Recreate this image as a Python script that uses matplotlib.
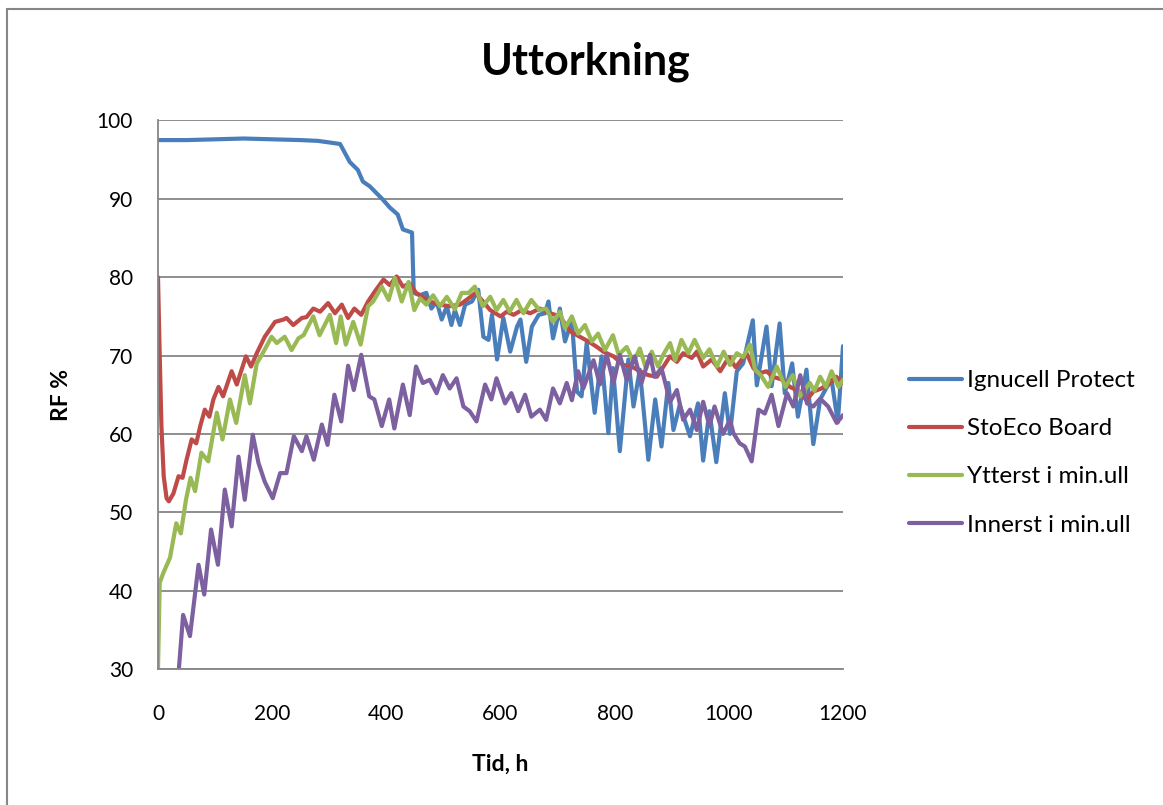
import matplotlib
matplotlib.use("Agg")
import matplotlib.pyplot as plt
from matplotlib.patches import Rectangle

plt.rcParams['font.family'] = ['Lato', 'DejaVu Sans']

# Ignucell Protect
t_ign = [0, 50, 100, 150, 200, 250, 280, 300, 319, 336, 350, 359, 371, 394, 406, 420, 429, 445,
         448, 459, 470, 479, 488, 497, 506, 514, 520, 529, 538, 550, 561, 570, 579, 585, 594, 605,
         617, 629, 635, 645, 655, 667, 678, 684, 692, 704, 713, 725, 734, 742, 751, 765, 777, 789,
         797, 809, 824, 833, 844, 859, 871, 882, 894, 903, 914, 932, 946, 955, 966, 978, 993, 1002,
         1014, 1025, 1042, 1049, 1066, 1075, 1089, 1098, 1111, 1121, 1136, 1148, 1160, 1171, 1180,
         1191, 1200]
rf_ign = [97.5, 97.5, 97.6, 97.7, 97.6, 97.5, 97.4, 97.2, 97.0, 94.7, 93.7, 92.2, 91.6, 89.9, 88.9, 88.0, 86.1, 85.7,
          78.0, 77.7, 78.0, 76.0, 76.9, 74.6, 76.3, 73.9, 75.8, 73.9, 76.5, 76.9, 78.4, 72.4, 72.0, 75.2, 69.5, 74.8,
          70.5, 73.7, 74.6, 69.2, 73.7, 75.2, 75.4, 76.9, 72.2, 76.0, 71.8, 74.5, 65.4, 64.8, 71.6, 62.7, 69.9, 60.1,
          68.4, 57.8, 69.5, 63.5, 68.2, 56.7, 64.4, 58.4, 66.5, 60.5, 63.7, 59.7, 63.9, 56.6, 62.9, 56.4, 65.2, 60.0,
          68.0, 69.0, 74.5, 66.2, 73.7, 66.1, 74.1, 65.2, 69.0, 62.2, 68.2, 58.7, 64.4, 65.9, 66.9,
          61.5, 71.2]

# StoEco Board
t_sto = [0, 3, 6, 10, 15, 19, 27, 36, 43, 50, 59, 67, 74, 82, 90, 97, 106, 114, 129, 138, 154, 163,
         173, 187, 205, 220, 225, 237, 252, 260, 272, 284, 298, 310, 322, 333, 344, 356, 368, 380, 395,
         406, 418, 429, 441, 452, 464, 476, 494, 511, 529, 544, 556, 567, 582, 600, 611, 623, 637, 652,
         669, 687, 704, 722, 739, 754, 769, 780, 798, 815, 830, 844, 859, 874, 897, 909, 920, 935, 944,
         955, 970, 985, 1000, 1012, 1031, 1043, 1052, 1066, 1077, 1095, 1107, 1122, 1136, 1148, 1162,
         1177, 1188, 1200]
rf_sto = [80.0, 70.0, 61.0, 54.6, 51.8, 51.4, 52.4, 54.6, 54.4, 56.7, 59.3, 58.8, 61.0, 63.1, 62.2, 64.4, 66.0, 64.8, 68.0, 66.3, 69.9, 68.6,
          70.3, 72.4, 74.3, 74.6, 74.8, 73.9, 74.8, 74.9, 76.0, 75.6, 76.7, 75.4, 76.5, 74.8, 76.0, 75.2, 76.9, 78.2, 79.7,
          79.0, 80.1, 78.8, 79.2, 78.0, 77.5, 76.9, 76.5, 76.3, 76.5, 77.3, 78.0, 77.1, 75.8, 75.0, 75.6, 75.2, 75.8, 75.4,
          76.0, 75.4, 75.0, 73.1, 72.4, 71.8, 71.1, 70.5, 69.9, 68.8, 68.6, 68.0, 67.5, 67.3, 69.9, 69.2, 70.3, 69.7, 70.5,
          68.6, 69.5, 68.0, 69.8, 68.5, 70.3, 68.4, 67.7, 68.0, 67.3, 66.9, 66.0, 65.5, 64.3, 65.4, 65.8,
          66.5, 67.3, 66.5]

# Ytterst i min.ull
t_ytt = [0, 3, 9, 21, 32, 40, 49, 57, 65, 76, 88, 103, 113, 126, 137, 152, 161, 173, 182, 199, 208,
         222, 234, 246, 255, 272, 283, 301, 312, 320, 329, 342, 355, 368, 377, 392, 404, 415, 427, 439,
         449, 459, 470, 482, 494, 506, 520, 532, 544, 555, 569, 582, 593, 605, 616, 628, 640, 654, 668,
         680, 692, 704, 713, 725, 736, 748, 760, 771, 783, 797, 807, 821, 833, 844, 855, 865, 876, 885,
         897, 906, 917, 929, 940, 955, 966, 979, 991, 1002, 1014, 1025, 1037, 1046, 1056, 1069, 1084,
         1099, 1112, 1125, 1142, 1150, 1160, 1170, 1180, 1192, 1200]
rf_ytt = [30.0, 41.0, 42.2, 44.2, 48.6, 47.3, 51.6, 54.4, 52.7, 57.6, 56.5, 62.7, 59.3, 64.4, 61.4, 67.5, 63.9, 69.0, 70.1, 72.4, 71.6,
          72.4, 70.7, 72.2, 72.6, 75.0, 72.6, 75.2, 71.6, 75.0, 71.4, 74.3, 71.4, 76.3, 76.9, 78.8, 77.1, 79.9, 76.9, 79.4,
          75.8, 77.3, 76.5, 77.7, 76.3, 77.5, 75.9, 78.0, 78.0, 78.8, 76.3, 77.5, 75.8, 77.1, 75.6, 77.1, 75.4, 77.1, 75.8,
          76.0, 74.3, 75.6, 73.5, 75.0, 72.8, 73.9, 71.8, 72.8, 70.7, 72.6, 70.1, 71.1, 69.2, 70.9, 68.3, 70.5, 68.6, 70.1,
          71.6, 69.4, 72.0, 70.3, 72.0, 69.7, 70.8, 68.6, 70.5, 68.8, 70.3, 69.8, 71.4, 68.2, 67.5, 66.0, 68.6,
          66.0, 67.5, 64.8, 66.5, 65.5, 67.3, 66.0, 68.0, 66.0, 66.9]

# Innerst i min.ull
t_inn = [25, 36, 44, 56, 71, 81, 93, 105, 117, 129, 141, 152, 166, 176, 187, 201, 214, 225, 238, 252,
         260, 273, 287, 297, 309, 321, 333, 343, 356, 370, 379, 392, 405, 414, 429, 441, 452, 464, 476,
         488, 499, 511, 523, 535, 546, 558, 573, 584, 593, 608, 619, 631, 643, 654, 669, 680, 692, 704,
         716, 725, 736, 745, 763, 774, 786, 798, 809, 821, 835, 847, 862, 870, 882, 897, 909, 920, 932,
         944, 955, 966, 975, 990, 1002, 1008, 1019, 1028, 1040, 1052, 1063, 1075, 1087, 1102, 1113,
         1125, 1137, 1148, 1160, 1174, 1189, 1200]
rf_inn = [25.0, 29.5, 36.9, 34.2, 43.3, 39.5, 47.8, 43.3, 52.9, 48.2, 57.1, 51.6, 59.9, 56.3, 53.9, 51.8, 55.0, 55.0, 59.7, 57.8,
          59.7, 56.7, 61.2, 58.6, 65.0, 61.6, 68.7, 65.6, 70.1, 64.8, 64.4, 61.0, 64.4, 60.7, 66.3, 62.4, 68.6, 66.5, 66.9,
          65.2, 67.5, 65.8, 67.1, 63.5, 62.9, 61.6, 66.3, 64.4, 67.1, 63.9, 65.2, 62.9, 65.0, 62.2, 63.1, 61.8, 65.8, 63.9,
          66.5, 64.3, 68.0, 65.8, 69.4, 66.3, 70.1, 66.5, 70.1, 66.9, 69.9, 66.5, 70.1, 67.3, 68.4, 64.1, 65.6, 61.8, 63.1,
          60.5, 64.1, 61.0, 63.5, 60.0, 61.8, 60.1, 58.8, 58.4, 56.5, 63.1, 62.6, 65.0, 61.0, 65.2, 63.5,
          67.5, 63.9, 63.5, 64.5, 63.5, 61.4, 62.4]

labels = ["Ignucell Protect", "StoEco Board", "Ytterst i min.ull", "Innerst i min.ull"]
colors = ["#4A7EBB", "#BE4B48", "#98B954", "#7D60A0"]

W, H = 1163, 805
fig = plt.figure(figsize=(W / 100, H / 100), dpi=100)
ax = fig.add_axes([158 / W, 1 - 669 / H, 685 / W, 548.5 / H])

series = [(t_ign, rf_ign), (t_sto, rf_sto), (t_ytt, rf_ytt), (t_inn, rf_inn)]
for (t, v), lab, c in zip(series, labels, colors):
    ax.plot(t, v, color=c, lw=3, label=lab, solid_joinstyle='round', solid_capstyle='round')

ax.set_xlim(0, 1200)
ax.set_ylim(30, 100)
ax.set_xticks(range(0, 1201, 200))
ax.set_yticks(range(30, 101, 10))
ax.grid(axis='y', color='#868686', lw=1.3)
ax.set_axisbelow(True)
for s in ['top', 'right']:
    ax.spines[s].set_visible(False)
for s in ['left', 'bottom']:
    ax.spines[s].set_color('#868686')
    ax.spines[s].set_linewidth(1.3)
ax.tick_params(axis='both', length=0, labelsize=15)
ax.tick_params(axis='y', pad=18)
ax.tick_params(axis='x', pad=25)

fig.text(586 / W, 1 - 62 / H, "Uttorkning", fontsize=31, fontweight='bold', ha='center', va='center')
fig.text(500 / W, 1 - 764 / H, "Tid, h", fontsize=16.5, fontweight='bold', ha='center', va='center')
fig.text(62 / W, 1 - 395 / H, "RF %", fontsize=16.5, fontweight='bold', ha='center', va='center', rotation=90)

fig.legend(loc='upper left', bbox_to_anchor=(909 / W, 1 - 370 / H), bbox_transform=fig.transFigure,
           frameon=False, fontsize=17.5, handlelength=2.2, handletextpad=0.2, labelspacing=1.12,
           borderpad=0, borderaxespad=0)

# chart border
fig.add_artist(Rectangle((7 / W, -0.05), 1.1, 1 - 9 / H + 0.05, transform=fig.transFigure,
                         fill=False, edgecolor='#868686', lw=1.5))

fig.savefig("out.png", dpi=100)
